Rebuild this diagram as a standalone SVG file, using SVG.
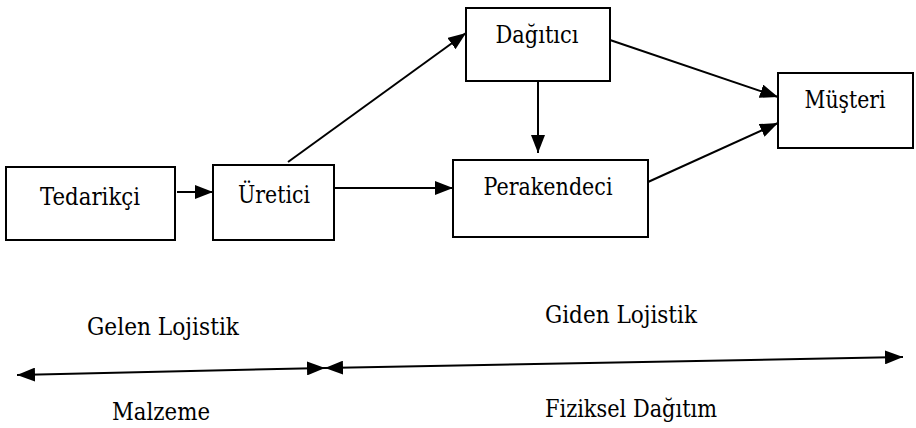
<svg xmlns="http://www.w3.org/2000/svg" width="916" height="428" viewBox="0 0 916 428">
<style>
.box{fill:#fff;stroke:#000;stroke-width:2}
.t{font-family:'DejaVu Serif','Liberation Serif',serif;font-size:24px;fill:#000;text-anchor:middle}
.c{stroke:#000;stroke-width:2;fill:none}
</style>
<defs>
<marker id="ah" viewBox="0 0 18 14" refX="18" refY="7" markerWidth="18" markerHeight="14" markerUnits="userSpaceOnUse" orient="auto">
<path d="M0,0 L18,7 L0,14 Z" fill="#000"/>
</marker>
<marker id="ahs" viewBox="0 0 18 14" refX="0" refY="7" markerWidth="18" markerHeight="14" markerUnits="userSpaceOnUse" orient="auto">
<path d="M18,0 L0,7 L18,14 Z" fill="#000"/>
</marker>
</defs>
<rect width="916" height="428" fill="#fff"/>
<g id="connectors">
<line class="c" x1="177" y1="192" x2="213" y2="192" marker-end="url(#ah)"/>
<line class="c" x1="288" y1="162" x2="466" y2="33" marker-end="url(#ah)"/>
<line class="c" x1="334" y1="188" x2="453" y2="188" marker-end="url(#ah)"/>
<line class="c" x1="538" y1="81" x2="538" y2="153" marker-end="url(#ah)"/>
<line class="c" x1="610" y1="40" x2="778" y2="97" marker-end="url(#ah)"/>
<line class="c" x1="648" y1="182" x2="778" y2="123" marker-end="url(#ah)"/>
<line class="c" x1="17" y1="375" x2="325" y2="368" marker-start="url(#ahs)" marker-end="url(#ah)"/>
<line class="c" x1="325" y1="368" x2="903" y2="357" marker-start="url(#ahs)" marker-end="url(#ah)"/>
</g>
<g id="tedarikci"><rect class="box" x="6" y="167" width="169" height="73"/><text class="t" x="90" y="205" textLength="100" lengthAdjust="spacingAndGlyphs">Tedarikçi</text></g>
<g id="uretici"><rect class="box" x="213" y="165" width="121" height="75"/><text class="t" x="274" y="203" textLength="72" lengthAdjust="spacingAndGlyphs">Üretici</text></g>
<g id="dagitici"><rect class="box" x="466" y="8" width="144" height="73"/><text class="t" x="537" y="43" textLength="83" lengthAdjust="spacingAndGlyphs">Dağıtıcı</text></g>
<g id="perakendeci"><rect class="box" x="453" y="160" width="195" height="77"/><text class="t" x="548" y="195" textLength="129" lengthAdjust="spacingAndGlyphs">Perakendeci</text></g>
<g id="musteri"><rect class="box" x="778" y="73" width="135" height="75"/><text class="t" x="845" y="108" textLength="81" lengthAdjust="spacingAndGlyphs">Müşteri</text></g>
<g id="labels">
<text class="t" x="163" y="335" textLength="152" lengthAdjust="spacingAndGlyphs">Gelen Lojistik</text>
<text class="t" x="621" y="323" textLength="152" lengthAdjust="spacingAndGlyphs">Giden Lojistik</text>
<text class="t" x="161" y="420" textLength="98" lengthAdjust="spacingAndGlyphs">Malzeme</text>
<text class="t" x="631" y="417" textLength="172" lengthAdjust="spacingAndGlyphs">Fiziksel Dağıtım</text>
</g>
</svg>
